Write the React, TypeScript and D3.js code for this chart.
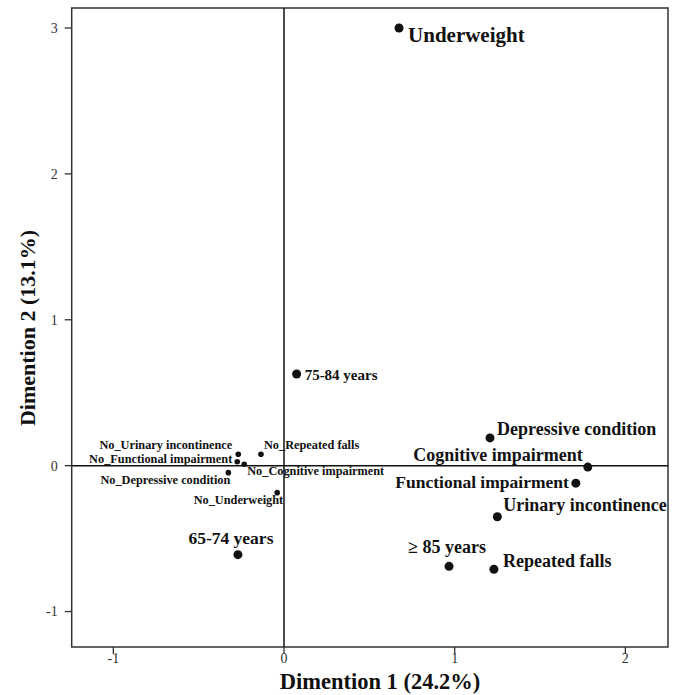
import { useMemo } from "react";
import * as d3 from "d3";

// category points from the correspondence analysis
const categories = [
  "Underweight",
  "75-84 years",
  "Depressive condition",
  "Cognitive impairment",
  "Functional impairment",
  "Urinary incontinence",
  "≥ 85 years",
  "Repeated falls",
  "65-74 years",
  "No_Urinary incontinence",
  "No_Repeated falls",
  "No_Functional impairment",
  "No_Cognitive impairment",
  "No_Depressive condition",
  "No_Underweight",
];
const dim1 = [0.674, 0.074, 1.207, 1.78, 1.71, 1.25, 0.967, 1.23, -0.27, -0.268, -0.135, -0.274, -0.233, -0.326, -0.04];
const dim2 = [3.0, 0.628, 0.19, -0.01, -0.12, -0.35, -0.69, -0.71, -0.61, 0.078, 0.078, 0.027, 0.01, -0.048, -0.185];

const xTicks = [-1, 0, 1, 2];
const yTicks = [-1, 0, 1, 2, 3];

// label placement relative to each point: [dx, dy, anchor, fontSize, radius]
const labelLayout: [number, number, string, number, number][] = [
  [9, 14, "start", 21, 4.5],
  [8, 6, "start", 15, 4.5],
  [7, -3, "start", 18, 4.5],
  [-5, -6, "end", 18, 4.5],
  [-7, 5, "end", 17.5, 4.5],
  [6, -6, "start", 18, 4.5],
  [-2, -13, "middle", 18, 4.5],
  [9, -2, "start", 18, 4.5],
  [-7, -11, "middle", 17.5, 4.5],
  [-6, -5.5, "end", 12.3, 2.8],
  [3, -5, "start", 12.3, 2.8],
  [-5, 1.5, "end", 12.3, 2.8],
  [3, 11, "start", 12.3, 2.8],
  [2, 11, "end", 12.3, 2.8],
  [6, 11, "end", 12.3, 2.8],
];

const width = 683;
const height = 695;
const frame = { left: 71.7, right: 668, top: 8, bottom: 647 };
const font = "'Liberation Serif', 'Times New Roman', serif";

export default function App() {
  const x = useMemo(
    () => d3.scaleLinear().domain([-1.244, 2.25]).range([frame.left, frame.right]),
    []
  );
  const y = useMemo(
    () => d3.scaleLinear().domain([-1.243, 3.137]).range([frame.bottom, frame.top]),
    []
  );

  const points = categories.map((name, i) => ({ name, d1: dim1[i], d2: dim2[i], layout: labelLayout[i] }));

  return (
    <div style={{ position: "absolute", left: 0, top: 0 }}>
      <svg width={width} height={height} style={{ display: "block", background: "#fff" }} fontFamily={font}>
        {/* frame */}
        <rect
          x={frame.left}
          y={frame.top}
          width={frame.right - frame.left}
          height={frame.bottom - frame.top}
          fill="none"
          stroke="#333"
          strokeWidth={1.5}
        />

        {/* zero reference lines */}
        <line x1={frame.left} x2={frame.right} y1={y(0)} y2={y(0)} stroke="#111" strokeWidth={1.5} />
        <line x1={x(0)} x2={x(0)} y1={frame.top} y2={frame.bottom} stroke="#111" strokeWidth={1.5} />

        {/* x axis */}
        {xTicks.map((t) => (
          <g key={`x${t}`}>
            <line x1={x(t)} x2={x(t)} y1={frame.bottom} y2={frame.bottom + 7} stroke="#333" strokeWidth={1.3} />
            <text x={x(t)} y={frame.bottom + 16} textAnchor="middle" fontSize={14} fill="#333">
              {t}
            </text>
          </g>
        ))}

        {/* y axis */}
        {yTicks.map((t) => (
          <g key={`y${t}`}>
            <line x1={frame.left - 7} x2={frame.left} y1={y(t)} y2={y(t)} stroke="#333" strokeWidth={1.3} />
            <text x={frame.left - 14} y={y(t)} dy="0.35em" textAnchor="end" fontSize={14} fill="#333">
              {t}
            </text>
          </g>
        ))}

        {/* axis titles */}
        <text x={380} y={689} textAnchor="middle" fontSize={22.5} fontWeight="bold" fill="#111">
          Dimention 1 (24.2%)
        </text>
        <text
          transform={`translate(35, 328) rotate(-90)`}
          textAnchor="middle"
          fontSize={22}
          fontWeight="bold"
          fill="#111"
        >
          Dimention 2 (13.1%)
        </text>

        {/* points and labels */}
        {points.map((p) => {
          const [dx, dy, anchor, fs, r] = p.layout;
          const cx = x(p.d1);
          const cy = y(p.d2);
          return (
            <g key={p.name}>
              <circle cx={cx} cy={cy} r={r} fill="#111" />
              <text
                x={cx + dx}
                y={cy + dy}
                textAnchor={anchor}
                fontSize={fs}
                fontWeight="bold"
                fill="#111"
              >
                {p.name}
              </text>
            </g>
          );
        })}
      </svg>
    </div>
  );
}
